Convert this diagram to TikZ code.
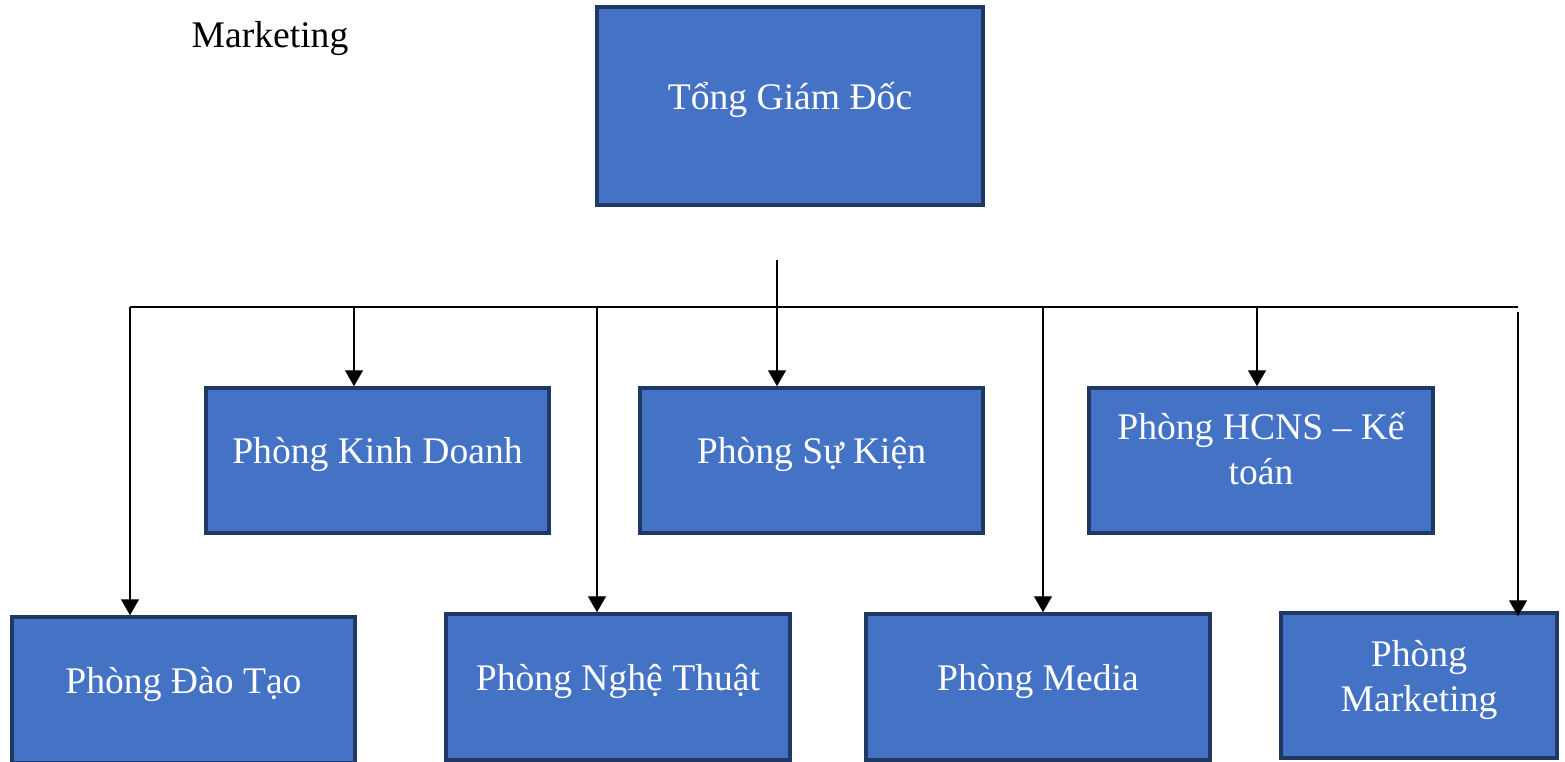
\documentclass[tikz,border=0pt]{standalone}
\usepackage{fontspec}
\setmainfont{Liberation Serif}
\usetikzlibrary{calc, positioning}
\usetikzlibrary{arrows.meta}

\definecolor{boxfill}{HTML}{4472C4}
\definecolor{boxline}{HTML}{1F3864}

\tikzset{
  box/.style={draw=boxline, line width=1pt, fill=boxfill, inner sep=0pt,
    minimum width=3.43cm, minimum height=1.45cm},
  boxtext/.style={text=white, align=center, yshift=0.6mm,
    font=\fontsize{10.7}{12.8}\selectfont},
  link/.style={line width=0.4pt, -{Triangle[width=1.8mm, length=1.6mm]}},
}

\begin{document}
\begin{tikzpicture}
  \useasboundingbox (0,0) rectangle (15.65,7.61);

  % boxes
  \node[box, minimum width=3.86cm, minimum height=1.98cm,
    label={[boxtext]center:Tổng Giám Đốc}] (tgd) at (7.90,6.55) {};

  \node[box, label={[boxtext]center:Phòng Kinh Doanh}] (kd) at (3.775,3.005) {};
  \node[box, label={[boxtext]center:Phòng Sự Kiện}] (sk) at (8.115,3.005) {};
  \node[box, minimum width=3.44cm,
    label={[boxtext, yshift=0.6mm]center:Phòng HCNS – Kế\\toán}] (hc) at (12.61,3.005) {};

  \node[box, minimum height=1.46cm, label={[boxtext]center:Phòng Đào Tạo}] (dt) at (1.835,0.71) {};
  \node[box, minimum width=3.44cm, minimum height=1.46cm,
    label={[boxtext]center:Phòng Nghệ Thuật}] (nt) at (6.18,0.74) {};
  \node[box, minimum width=3.44cm, minimum height=1.46cm,
    label={[boxtext]center:Phòng Media}] (md) at (10.38,0.74) {};
  \node[box, minimum width=2.76cm,
    label={[boxtext]center:Phòng\\Marketing}] (mk) at (14.19,0.755) {};

  \node[font=\fontsize{10.7}{12.8}\selectfont] (note) at (2.70,7.22) {Marketing};

  % bus
  \coordinate (stem) at (7.77,5.01);
  \coordinate (busL) at (1.30,4.54);
  \coordinate (busR) at (15.18,4.54);
  \coordinate (mkTop) at (15.18,4.49);

  \draw[line width=0.4pt] (stem) -- (stem |- busL);
  \draw[line width=0.4pt] (busL) -- (busR);

  \draw[link] (busL) -- (busL |- dt.north);
  \draw[link] (3.54,4.54) coordinate (kdTop) -- (kdTop |- kd.north);
  \draw[link] (5.97,4.54) coordinate (ntTop) -- (ntTop |- nt.north);
  \draw[link] (stem |- busL) -- (stem |- sk.north);
  \draw[link] (10.43,4.54) coordinate (mdTop) -- (mdTop |- md.north);
  \draw[link] (12.57,4.54) coordinate (hcTop) -- (hcTop |- hc.north);
  \draw[link] (mkTop) -- ([yshift=-0.5mm]mkTop |- mk.north);
\end{tikzpicture}
\end{document}
